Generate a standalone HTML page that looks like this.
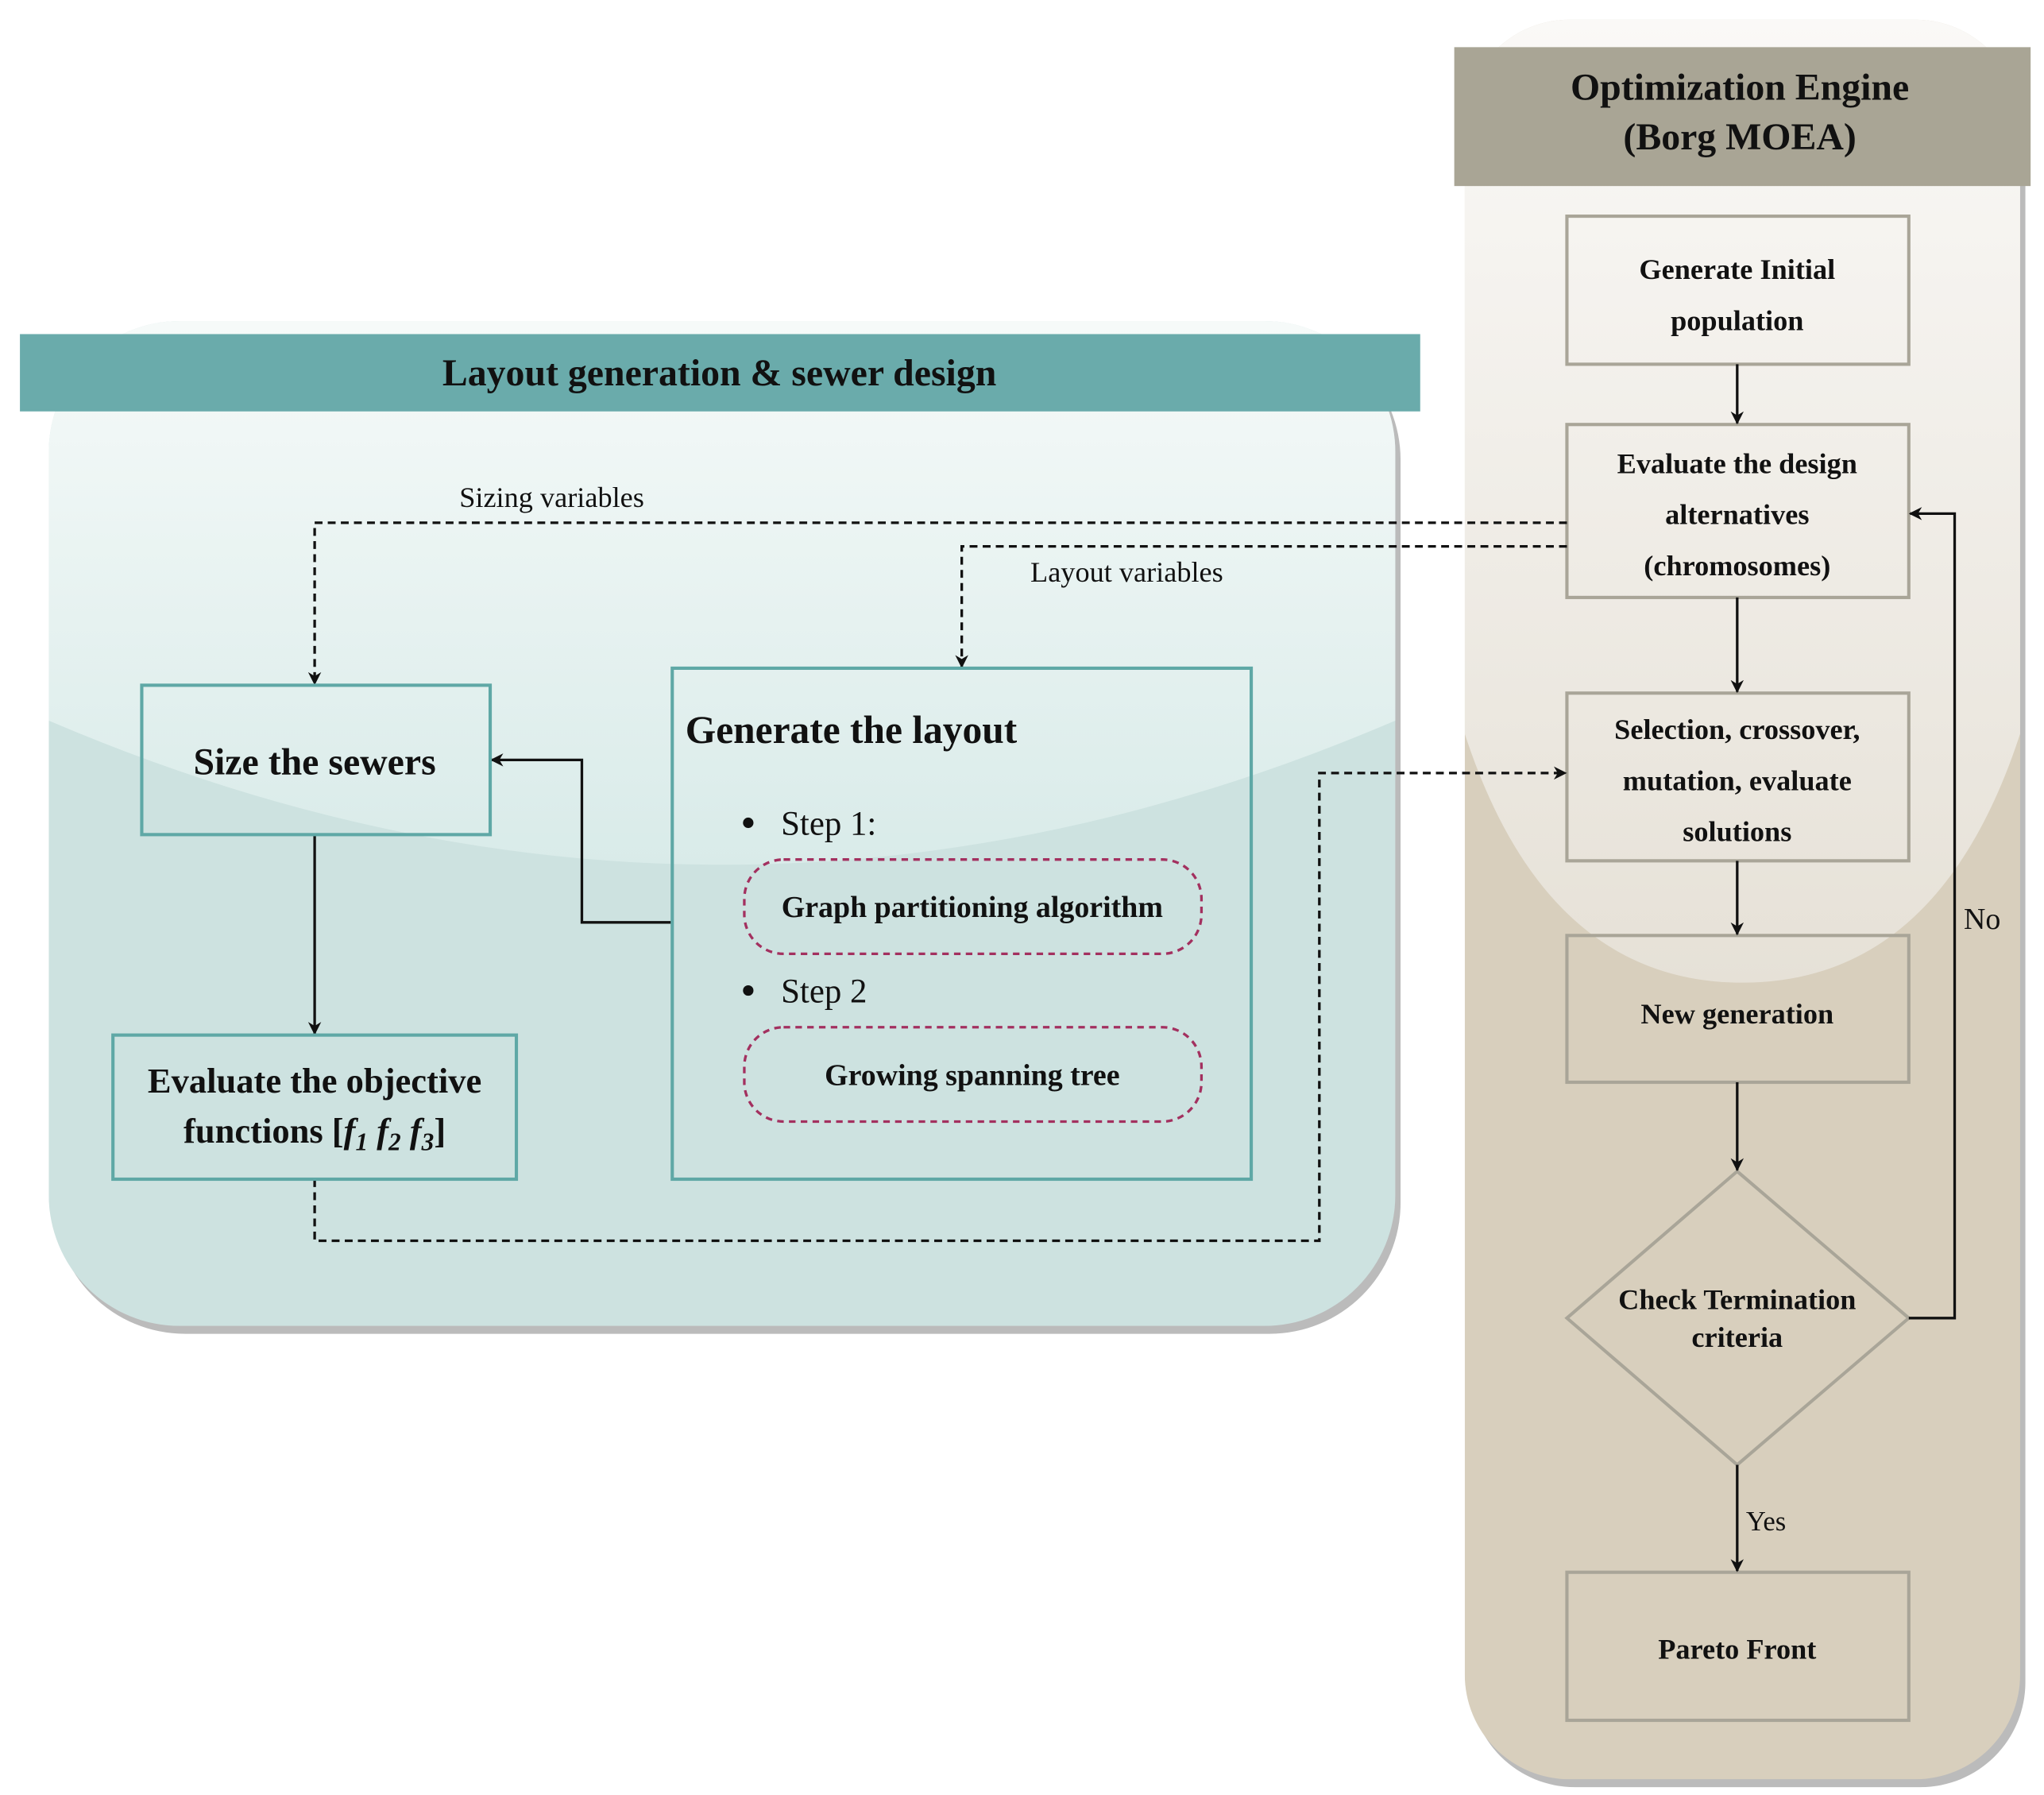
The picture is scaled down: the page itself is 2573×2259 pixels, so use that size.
<!DOCTYPE html>
<html><head><meta charset="utf-8"><style>
html,body{margin:0;padding:0;background:#fff;}
svg{display:block;}
text{font-family:"Liberation Serif","Times New Roman",serif;fill:#111;}
.b{font-weight:bold;}
</style></head><body>
<svg width="2573" height="2259" viewBox="0 0 1560 1370" xmlns="http://www.w3.org/2000/svg" font-family="Liberation Serif, serif">
<defs>
<linearGradient id="tg" x1="0" y1="0" x2="0" y2="1">
<stop offset="0" stop-color="#f6faf9"/><stop offset="1" stop-color="#d9ebe9"/></linearGradient>
<linearGradient id="bg" x1="0" y1="0" x2="0" y2="1">
<stop offset="0" stop-color="#faf9f7"/><stop offset="1" stop-color="#e6e1d7"/></linearGradient>
<clipPath id="tc"><rect x="37" y="245" width="1028" height="767" rx="100"/></clipPath>
<clipPath id="bc"><rect x="1118" y="15" width="424" height="1343" rx="80"/></clipPath>
<marker id="ar" markerWidth="10" markerHeight="10" refX="9" refY="5" orient="auto" markerUnits="userSpaceOnUse"><path d="M0,0 L10,5 L0,10 L3,5 z" fill="#111"/></marker>
</defs>
<rect x="41" y="251" width="1028" height="767" rx="100" fill="#bbbbbb"/>
<g clip-path="url(#tc)">
<rect x="37" y="245" width="1028" height="767" fill="#cde2e0"/>
<path d="M37,245 H1065 V550 Q551,770 37,550 Z" fill="url(#tg)"/>
</g>
<rect x="15" y="255" width="1069" height="59" fill="#6aabab"/>
<text x="549" y="294" text-anchor="middle" font-size="29" class="b">Layout generation &amp; sewer design</text>
<rect x="1122" y="21" width="424" height="1343" rx="80" fill="#bbbbbb"/>
<g clip-path="url(#bc)">
<rect x="1118" y="15" width="424" height="1343" fill="#d8cfbd"/>
<path d="M1118,15 H1542 V560 Q1480,750 1330,750 Q1180,750 1118,560 Z" fill="url(#bg)"/>
</g>
<rect x="1110" y="36" width="440" height="106" fill="#a9a595"/>
<text x="1328" y="76" text-anchor="middle" font-size="29" class="b">Optimization Engine</text>
<text x="1328" y="114" text-anchor="middle" font-size="29" class="b">(Borg MOEA)</text>
<g fill="none" stroke="#a9a598" stroke-width="2.5">
<rect x="1196" y="165" width="261" height="113"/>
<rect x="1196" y="324" width="261" height="132"/>
<rect x="1196" y="529" width="261" height="128"/>
<rect x="1196" y="714" width="261" height="112"/>
<path d="M1326,894 L1457,1006 L1326,1118 L1196,1006 Z"/>
<rect x="1196" y="1200" width="261" height="113"/>
</g>
<g font-size="22" text-anchor="middle">
<text x="1326" y="213" class="b">Generate Initial</text>
<text x="1326" y="252" class="b">population</text>
<text x="1326" y="361" class="b">Evaluate the design</text>
<text x="1326" y="400" class="b">alternatives</text>
<text x="1326" y="439" class="b">(chromosomes)</text>
<text x="1326" y="564" class="b">Selection, crossover,</text>
<text x="1326" y="603" class="b">mutation, evaluate</text>
<text x="1326" y="642" class="b">solutions</text>
<text x="1326" y="781" class="b">New generation</text>
<text x="1326" y="999" class="b">Check Termination</text>
<text x="1326" y="1028" class="b">criteria</text>
<text x="1326" y="1266" class="b">Pareto Front</text>
</g>
<g stroke="#111" stroke-width="2" fill="none">
<line x1="1326" y1="278" x2="1326" y2="323" marker-end="url(#ar)"/>
<line x1="1326" y1="456" x2="1326" y2="528" marker-end="url(#ar)"/>
<line x1="1326" y1="657" x2="1326" y2="713" marker-end="url(#ar)"/>
<line x1="1326" y1="826" x2="1326" y2="893" marker-end="url(#ar)"/>
<line x1="1326" y1="1118" x2="1326" y2="1199" marker-end="url(#ar)"/>
<polyline points="1457,1006 1492,1006 1492,392 1458,392" marker-end="url(#ar)"/>
<line x1="240" y1="637" x2="240" y2="789" marker-end="url(#ar)"/>
<polyline points="513,704 444,704 444,580 375,580" marker-end="url(#ar)"/>
</g>
<g stroke="#111" stroke-width="2" fill="none" stroke-dasharray="6,4">
<polyline points="1196,399 240,399 240,522" marker-end="url(#ar)"/>
<polyline points="1196,417 734,417 734,509" marker-end="url(#ar)"/>
<polyline points="240,900 240,947 1007,947 1007,590 1195,590" marker-end="url(#ar)"/>
</g>
<text x="1513" y="709" text-anchor="middle" font-size="23">No</text>
<text x="1348" y="1168" text-anchor="middle" font-size="21">Yes</text>
<text x="421" y="387" text-anchor="middle" font-size="22">Sizing variables</text>
<text x="860" y="444" text-anchor="middle" font-size="22">Layout variables</text>
<g fill="none" stroke="#5fa8a6" stroke-width="2.5">
<rect x="108" y="523" width="266" height="114"/>
<rect x="86" y="790" width="308" height="110"/>
<rect x="513" y="510" width="442" height="390"/>
</g>
<g fill="none" stroke="#a3305f" stroke-width="2" stroke-dasharray="5,4">
<rect x="568" y="656" width="349" height="72" rx="30"/>
<rect x="568" y="784" width="349" height="72" rx="30"/>
</g>
<text x="240" y="591" text-anchor="middle" font-size="29" class="b">Size the sewers</text>
<text x="240" y="834" text-anchor="middle" font-size="27" class="b">Evaluate the objective</text>
<text x="240" y="872" text-anchor="middle" font-size="27" class="b">functions [<tspan font-style="italic">f</tspan><tspan font-style="italic" font-size="19" dy="6">1</tspan><tspan font-style="italic" dy="-6"> f</tspan><tspan font-style="italic" font-size="19" dy="6">2</tspan><tspan font-style="italic" dy="-6"> f</tspan><tspan font-style="italic" font-size="19" dy="6">3</tspan><tspan dy="-6">]</tspan></text>
<text x="523" y="567" font-size="30" class="b">Generate the layout</text>
<circle cx="571" cy="628" r="4" fill="#111"/>
<text x="596" y="637" font-size="26">Step 1:</text>
<circle cx="571" cy="756" r="4" fill="#111"/>
<text x="596" y="765" font-size="26">Step 2</text>
<text x="742" y="700" text-anchor="middle" font-size="23" class="b">Graph partitioning algorithm</text>
<text x="742" y="828" text-anchor="middle" font-size="23" class="b">Growing spanning tree</text>
</svg>
</body></html>
